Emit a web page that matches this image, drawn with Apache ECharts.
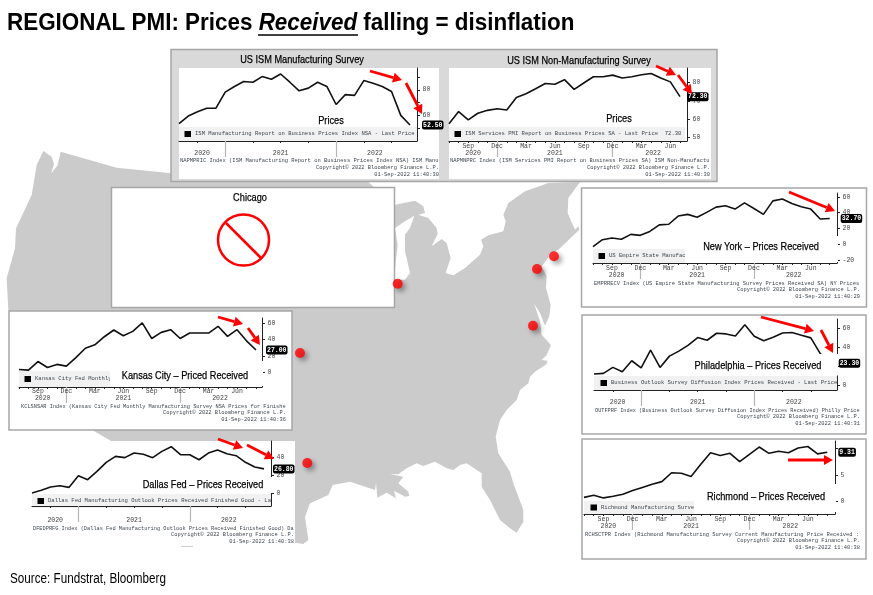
<!DOCTYPE html>
<html><head><meta charset="utf-8">
<style>html,body{margin:0;padding:0;background:#fff}#c{width:873px;height:595px}</style>
<script src="https://cdn.jsdelivr.net/npm/echarts@6/dist/echarts.min.js"></script>
</head><body><div id="c"></div>
<script>
// ---- data (monthly, Jul-2020 onward) ----
const ismMfgValues=[53.6,59.5,62.8,65.6,65.6,78.2,82.6,86.4,85.9,90.3,88.2,92.3,85.9,79.2,81.3,85.9,82.6,68.5,76.2,75.6,87.2,85.1,82.6,78.7,60,52.5];
const ismSvcValues=[57.5,64.1,59.6,63.2,64.8,65.7,65,71.8,73.9,76.6,79.5,79.1,81.6,76.3,79.8,83.2,83.2,84.1,82.5,83.2,84.3,85,82.5,80.4,72.3];
const nyValues=[-2.9,5.8,7.9,6.3,12.5,11.3,16.3,24.6,25.4,35.8,37.9,34.2,40.4,47.1,48.8,44.6,52.5,45.4,37.9,55,57.5,51.7,47.5,44.6,32.1,32.7];
const phillyValues=[12.1,12.8,19,14.5,25.9,18.6,36.9,19,30.7,35.9,42.1,50,47.2,54.5,53.8,51.7,63.4,51.4,46.6,50.3,54.8,55.2,52.4,49.7,33.4,23.3];
const richmondValues=[0.7,1.1,0.6,0.9,1.3,2,2.6,3.2,3.7,5.4,5.3,4.7,7,9.2,8.7,9.1,7.5,8.9,10.3,9.1,9.5,9.2,10.1,10.4,9,9.31];
const kansasValues=[3.3,2.5,13,5.8,9.5,7.4,17.7,29.2,33.3,43.2,51.4,44.4,49.7,60,41,48.5,51.8,41,47.7,47.7,47.7,55.9,43.6,51.8,38.2,27];
const dallasValues=[0,3,6.7,8.1,6.3,19.3,14.8,24.1,34.1,40.7,39.3,44.4,43,39.3,46.3,51.5,42.6,42.6,37,44.4,47.8,43.7,41.5,34.1,28.9,26.8];
const monthTickIndex=[2,5,8,11,14,17,20,23];
const monthTickLabels=['Sep','Dec','Mar','Jun','Sep','Dec','Mar','Jun'];
const yearTickIndex=[2.5,11,21.2];
const yearTickLabels=['2020','2021','2022'];
const yearSeparators=[5,17];
const cityNames=['Chicago','Kansas City','Dallas','Philadelphia','New York','Richmond'];
const cityMapX=[397.7,300,307.3,537,554,533];
const cityMapY=[283.7,353,463,269,256.3,325.7];

const SANS='"Liberation Sans",sans-serif', MONO='"Liberation Mono","DejaVu Sans Mono",monospace';
const tr=(ox,oy,pts)=>pts.map(p=>[ox+p[0]/3,oy+p[1]/3]);
const mapOutline=[].concat(
 tr(0,145,[[130,18],[155,35],[162,58],[153,85],[172,62],[178,38],[182,20],[350,68],[515,85]]),
 [[250,178],[330,178],[367,181]],
 tr(385,178,[[30,80],[90,68],[115,85],[120,105],[100,110],[130,120],[155,150],[158,168],[140,205],[170,183],[185,195],[197,240],[182,285],[205,292],[240,270],[285,230],[295,205],[288,185],[310,172],[355,160],[362,130],[355,110],[370,75],[420,40],[490,15],[585,12],[550,60],[548,105],[570,155],[580,145],[583,155],[520,215],[500,225],[470,265],[485,295],[483,330],[497,380],[493,415],[480,443],[465,405],[440,365],[425,335],[432,325],[445,370],[465,430],[470,470],[497,500]]),
 tr(290,340,[[782,18],[770,45],[755,60],[772,62],[770,72],[735,95],[720,110],[715,130],[690,150],[680,180],[650,210],[630,240],[617,290],[625,340],[660,395],[670,430],[700,510],[700,545],[680,578],[660,565],[630,540],[600,480],[575,440],[575,400],[530,370],[510,375],[490,390],[470,385],[435,365],[400,378],[380,370],[350,385],[325,403],[300,402],[340,410],[325,430],[355,455],[358,468],[345,470],[312,452],[318,475],[290,458],[262,473],[258,428],[255,450],[180,425],[128,435],[115,465],[60,490],[45,530],[55,600],[40,612],[15,608]]),
 [[290,546],[111,441],[94,431],[60,400]],
 tr(0,145,[[25,495],[20,400],[45,310],[48,250],[95,150],[110,60]])
);
const lakeMichigan=tr(385,178,[[88,113],[60,130],[30,150],[38,200],[28,290],[28,305],[60,305],[75,285],[60,220],[60,170],[75,150]]);

const panels=[
 {vals:ismMfgValues,l:179,r:417,t:68,b:141,end:410,min:40,max:97,yl:[60,80],yt:[50,60,70,80,90],months:false,tagD:12,mTicks:monthTickIndex,
  lg:[179,127,238,14,'ISM Manufacturing Report on Business Prices Index NSA - Last Price'],lgText:195,
  foot:['NAPMPRIC Index (ISM Manufacturing Report on Business Prices Index NSA) ISM Manu','01-Sep-2022 11:40:30'],fx:[180,439],fy:[161,168,175],yearM:9},
 {vals:ismSvcValues,l:449,r:687,t:68,b:141,end:680,min:48,max:88,yl:[50,60,70,80],yt:[50,60,70,80],months:true,tagD:7,mM:2,yearM:9,
  lg:[449,127,236,14,'ISM Services PMI Report on Business Prices SA - Last Price  72.30'],lgText:465,
  foot:['NAPMNPRC Index (ISM Services PMI Report on Business Prices SA) ISM Non-Manufactu','01-Sep-2022 11:40:30'],fx:[450,710],fy:[161,168,175]},
 {vals:nyValues,l:593,r:837,t:193,b:263,end:829.7,min:-23.75,max:65,yl:[-20,0,20,40,60],yt:[-20,0,20,40,60],months:true,tagD:11,mM:2,yearM:9,
  lg:[593,249,92,14,'US Empire State Manufac'],lgText:609,
  foot:['EMPRRECV Index (US Empire State Manufacturing Survey Prices Received SA) NY Prices','01-Sep-2022 11:40:29'],fx:[594,860],fy:[284,290,297]},
 {vals:phillyValues,l:594,r:837,t:319,b:390,end:829.7,min:-4.5,max:69.3,yl:[0,40,60],yt:[0,20,40,60],months:false,tagD:9,mTicks:monthTickIndex,
  lg:[594,376,243,14,'Business Outlook Survey Diffusion Index Prices Received - Last Price'],lgText:611,
  foot:['OUTFPRF Index (Business Outlook Survey Diffusion Index Prices Received) Philly Price','01-Sep-2022 11:40:31'],fx:[595,860],fy:[411,417,424],yearM:9},
 {vals:richmondValues,l:584,r:835,t:441,b:514,end:827.3,min:-2.47,max:11.45,yl:[0,5],yt:[0,5,10],months:true,tagD:11,mM:2,yearM:9,
  lg:[584,501,110,13,'Richmond Manufacturing Survey'],lgText:601,
  foot:['RCHSCTPR Index (Richmond Manufacturing Survey Current Manufacturing Price Received :','01-Sep-2022 11:40:38'],fx:[585,860],fy:[535,541,548]},
 {vals:kansasValues,l:19,r:262,t:318,b:387,end:256,min:-18,max:66,yl:[0,20,40,60],yt:[0,20,40,60],months:true,tagD:10,mM:1,yearM:8,
  lg:[19,371,91,16,'Kansas City Fed Monthly'],lgText:35,
  foot:['KCLSNSAR Index (Kansas City Fed Monthly Manufacturing Survey NSA Prices for Finishe','01-Sep-2022 11:40:36'],fx:[21,286],fy:[407,413,420]},
 {vals:dallasValues,l:32,r:271,t:441,b:506,end:264,min:-14.4,max:57.8,yl:[0,20,40],yt:[0,20,40],months:false,tagD:9,mTicks:monthTickIndex,
  lg:[32,494,239,14,'Dallas Fed Manufacturing Outlook Prices Received Finished Good - La'],lgText:48,
  foot:['DFEDPRFG Index (Dallas Fed Manufacturing Outlook Prices Received Finished Good) Da','01-Sep-2022 11:40:38'],fx:[33,294],fy:[529,535,542],yearM:11}
];
const COPY='Copyright\u00A9 2022 Bloomberg Finance L.P.';
const allIdx=n=>Array.from({length:n},(_,i)=>i);
const grid=[],xAxis=[],yAxis=[],series=[];
panels.forEach((p,i)=>{
 const n=p.vals.length, step=(p.end-p.l)/(n-1), xmax=(p.r-p.l)/step;
 grid.push({left:p.l,top:p.t,width:p.r-p.l,height:p.b-p.t,containLabel:false});
 const base={type:'value',gridIndex:i,min:0,max:xmax,position:'bottom',splitLine:{show:false},z:5};
 xAxis.push(Object.assign({},base,{
  axisLine:{show:true,onZero:false,lineStyle:{color:'#222',width:1}},
  axisTick:{show:true,customValues:p.months?allIdx(n):p.mTicks,length:2,lineStyle:{color:'#222'}},
  axisLabel:{show:p.months,customValues:monthTickIndex,margin:p.mM||2,fontFamily:MONO,fontSize:6.5,color:'#444',
    formatter:v=>monthTickLabels[monthTickIndex.indexOf(v)]||''}
 }));
 xAxis.push(Object.assign({},base,{
  axisLine:{show:false,onZero:false},
  axisTick:{show:true,customValues:yearSeparators,length:16,lineStyle:{color:'#b5b5b5',width:1.2}},
  axisLabel:{show:true,customValues:yearTickIndex,margin:p.yearM,fontFamily:MONO,fontSize:6.5,color:'#444',
    formatter:v=>yearTickLabels[yearTickIndex.indexOf(v)]||''}
 }));
 yAxis.push({type:'value',gridIndex:i,position:'right',min:p.min,max:p.max,z:5,splitLine:{show:false},
  axisLine:{show:true,onZero:false,lineStyle:{color:'#222',width:1}},
  axisTick:{show:true,customValues:p.yt,length:3,lineStyle:{color:'#222'}},
  axisLabel:{customValues:p.yl,margin:5.5,fontFamily:MONO,fontSize:6.5,color:'#444',formatter:v=>String(v)}});
 series.push({type:'line',xAxisIndex:i*2,yAxisIndex:i,z:6,data:p.vals.map((v,k)=>[k,v]),symbol:'none',smooth:false,animation:false,clip:false,
  lineStyle:{color:'#111',width:1.6},
  endLabel:{show:true,distance:p.tagD,formatter:o=>o.value[1].toFixed(2),backgroundColor:'#000',color:'#fff',padding:[1,1,1,1],borderRadius:2,fontFamily:MONO,fontSize:6.5,fontWeight:'bold'}});
});
// hidden base-map axes for the six survey locations
grid.push({left:0,top:0,width:873,height:595});
xAxis.push({type:'value',gridIndex:7,min:0,max:873,show:false});
yAxis.push({type:'value',gridIndex:7,min:0,max:595,inverse:true,show:false});
series.push({type:'scatter',name:'Survey locations',xAxisIndex:14,yAxisIndex:7,z:7,animation:false,symbolSize:10,
 data:cityNames.map((c,i)=>({name:c,value:[cityMapX[i],cityMapY[i]]})),
 itemStyle:{color:'#ff0000',shadowBlur:5,shadowOffsetX:3,shadowOffsetY:3,shadowColor:'rgba(0,0,0,0.45)'}});

const G=[];
const rect=(x,y,w,h,fill,stroke,z)=>G.push({type:'rect',z:z,silent:true,shape:{x,y,width:w,height:h},style:{fill:fill,stroke:stroke||null,lineWidth:stroke?1.5:0}});
// condensed headings: the sans face narrowed with a horizontal scale
const txt=(s,x,y,size,sx,align)=>G.push({type:'text',z:21,silent:true,x,y,scaleX:sx,style:{text:s,x:0,y:0,textAlign:align||'center',textVerticalAlign:'middle',fill:'#000',stroke:'#000',lineWidth:0.25,fontFamily:SANS,fontSize:size}});
const mono=(s,x,y,a,sz,z)=>G.push({type:'text',z:z||3,silent:true,style:{text:s,x,y,textAlign:a,textVerticalAlign:'middle',fill:'#3d4650',fontFamily:MONO,fontSize:sz||5.4}});
// base map
G.push({type:'polygon',z:1,silent:true,shape:{points:mapOutline},style:{fill:'#cbcbcb'}});
G.push({type:'polygon',z:1,silent:true,shape:{points:lakeMichigan},style:{fill:'#fff'}});
// panels
rect(171,49.5,546,132,'#d9d9d9','#a6a6a6',2);
rect(179,68,260,111,'#fff',null,2);
rect(449,68,262,111,'#fff',null,2);
rect(111.5,187.5,283,120,'#fff','#a6a6a6',2);
rect(581.5,188,285,119,'#fff','#a6a6a6',2);
rect(582,315,284,119,'#fff','#a6a6a6',2);
rect(582,439,284,120,'#fff','#a6a6a6',2);
rect(9,311,283,119,'#fff','#a6a6a6',2);
rect(28,441,267,105,'#fff',null,2);
G.push({type:'line',z:3,silent:true,shape:{x1:181,y1:546.5,x2:193,y2:546.5},style:{stroke:'#cfcfcf',lineWidth:1}});
panels.forEach(p=>{
 rect(p.lg[0],p.lg[1],p.lg[2],p.lg[3],'#f1f1f1',null,3);
 const cy=p.lg[1]+p.lg[3]/2;
 rect(p.lgText-10.5,cy-3,6.5,6,'#000',null,4);
 mono(p.lg[4],p.lgText,cy,'left',5.55,4);
 mono(p.foot[0],p.fx[0],p.fy[0],'left',(p.fx[1]-p.fx[0])/(p.foot[0].length*0.6));
 mono(COPY,p.fx[1],p.fy[1],'right');
 mono(p.foot[1],p.fx[1],p.fy[2],'right');
});
// white title plates that mask the charts
rect(685,236,153,26,'#fff',null,20);
rect(681,354,157,21.5,'#fff',null,20);
rect(694,484,142,28,'#fff',null,20);
rect(110,361,153,25,'#fff',null,20);
rect(128,477,144,16,'#fff',null,20);
// main heading
G.push({type:'text',z:22,silent:true,x:7,y:23,scaleX:0.915,style:{x:0,y:0,textVerticalAlign:'middle',
 text:'{a|REGIONAL PMI: Prices }{b|Received}{a| falling = disinflation}',
 rich:{a:{fontFamily:SANS,fontSize:24.5,fontWeight:'bold',fill:'#000'},b:{fontFamily:SANS,fontSize:24.5,fontWeight:'bold',fontStyle:'italic',fill:'#000'}}}});
G.push({type:'line',z:22,silent:true,shape:{x1:258,y1:35,x2:358,y2:35},style:{stroke:'#000',lineWidth:1.3}});
// titles
txt('US ISM Manufacturing Survey',302,60,11.5,0.8);
txt('US ISM Non-Manufacturing Survey',579,61,11.5,0.8);
txt('Prices',331,121,11.5,0.8);
txt('Prices',619,119,11.5,0.8);
txt('Chicago',250,198,11.5,0.8);
txt('New York \u2013 Prices Received',761,247,11.5,0.8);
txt('Philadelphia \u2013 Prices Received',758,366,11.5,0.8);
txt('Richmond \u2013 Prices Received',766,497,11.5,0.8);
txt('Kansas City \u2013 Priced Received',185,376,11.5,0.8);
txt('Dallas Fed \u2013 Prices Received',203,485,11.5,0.8);
G.push({type:'text',z:21,silent:true,x:10,y:579,scaleX:0.835,style:{text:'Source: Fundstrat, Bloomberg',x:0,y:0,textVerticalAlign:'middle',fill:'#000',fontFamily:SANS,fontSize:14}});
// no-data symbol
G.push({type:'circle',z:21,silent:true,shape:{cx:243.5,cy:240,r:25.5},style:{fill:null,stroke:'#ff0000',lineWidth:2.5}});
G.push({type:'line',z:21,silent:true,shape:{x1:226,y1:223,x2:261,y2:258},style:{stroke:'#ff0000',lineWidth:2.5}});
// red annotation arrows
const arrow=(x1,y1,x2,y2)=>{
 const a=Math.atan2(y2-y1,x2-x1),h=9,w=5,bx=x2-h*Math.cos(a),by=y2-h*Math.sin(a),nx=-Math.sin(a),ny=Math.cos(a);
 G.push({type:'line',z:22,silent:true,shape:{x1,y1,x2:bx,y2:by},style:{stroke:'#ff0000',lineWidth:2.8}});
 G.push({type:'polygon',z:22,silent:true,shape:{points:[[x2,y2],[bx+nx*w,by+ny*w],[bx-nx*w,by-ny*w]]},style:{fill:'#ff0000'}});
};
[[370,71,402,80],[406,83,422,114],[656,66,676,75],[678,75,692,94],[789,192,835,211],[761,317,814,331],[821,330,833,353],[788,460,833,460],[218,317,243,324],[248,328,260,345],[218,439,243,448],[247,445,274,459]].forEach(a=>arrow.apply(null,a));

const chart=echarts.init(document.getElementById('c'),null,{renderer:'canvas'});
chart.setOption({animation:false,backgroundColor:'#fff',grid,xAxis,yAxis,series,graphic:{elements:G}});
</script></body></html>
